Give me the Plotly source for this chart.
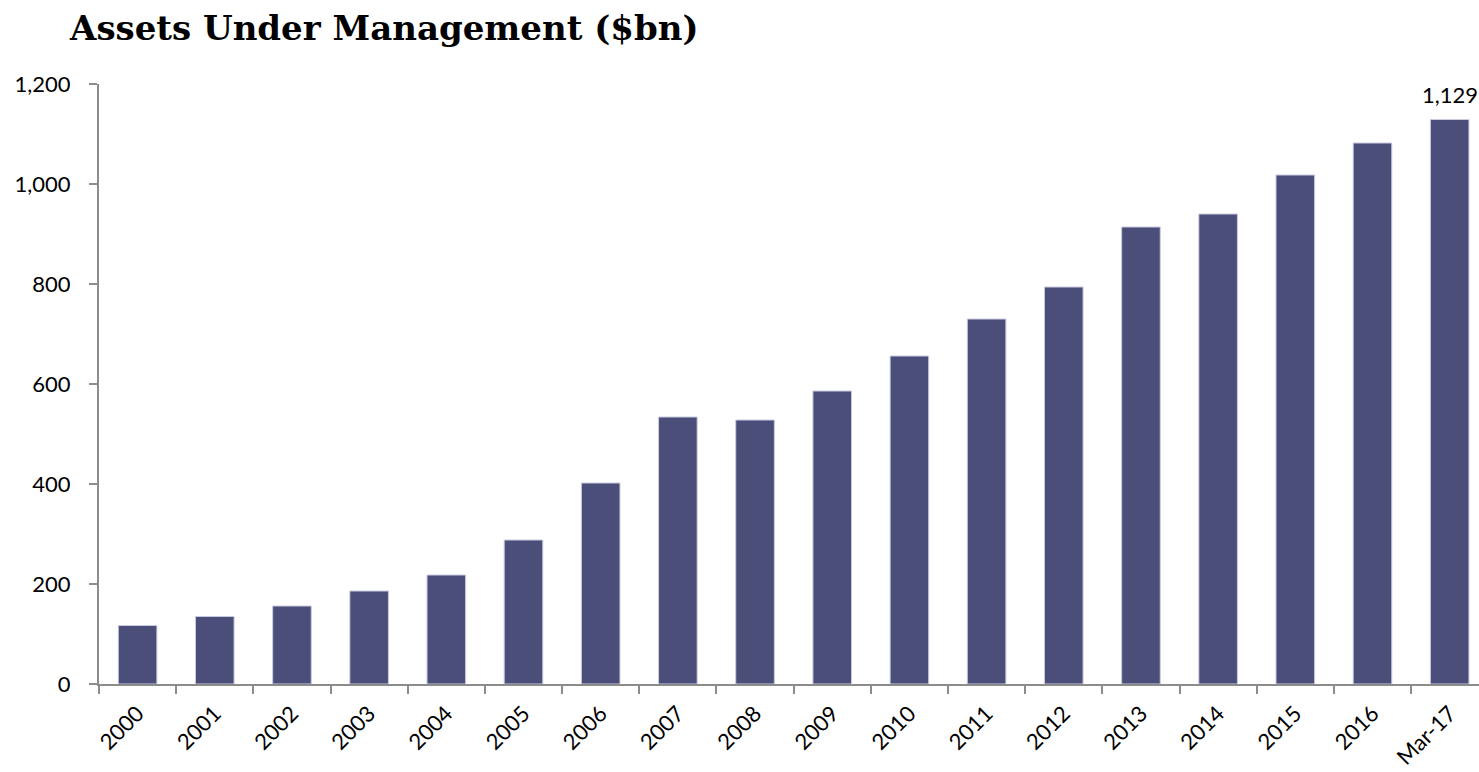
import plotly.graph_objects as go

categories = ["2000", "2001", "2002", "2003", "2004", "2005", "2006", "2007", "2008",
              "2009", "2010", "2011", "2012", "2013", "2014", "2015", "2016", "Mar-17"]
aum_values = [117, 135, 156, 186, 218, 288, 402, 534, 528,
              586, 656, 730, 794, 914, 940, 1018, 1082, 1129]
label_index = [17]
y_ticks = [0, 200, 400, 600, 800, 1000, 1200]
y_tick_text = ["0", "200", "400", "600", "800", "1,000", "1,200"]

FONT = "Lato, Open Sans, sans-serif"
FS = 22

fig = go.Figure()
fig.add_trace(go.Bar(
    x=categories, y=aum_values,
    marker=dict(color="#4b4e78", line=dict(color="#c9cbe0", width=1)),
    width=0.5,
    cliponaxis=False,
    hoverinfo="x+y",
))

for i in label_index:
    fig.add_annotation(
        x=categories[i], y=aum_values[i], text=f"{aum_values[i]:,}",
        showarrow=False, yanchor="bottom", yshift=10,
        font=dict(family=FONT, size=FS, color="#000000"),
    )

fig.update_layout(
    width=1479, height=772,
    margin=dict(l=99, r=0, t=84, b=88),
    paper_bgcolor="white", plot_bgcolor="white",
    showlegend=False,
    title=dict(
        text="<b>Assets Under Management ($bn)</b>",
        x=70 / 1479, xanchor="left", xref="container",
        y=1 - 28 / 772, yanchor="middle", yref="container",
        font=dict(family="DejaVu Serif, Georgia, serif", size=34, color="#000000"),
    ),
    font=dict(family=FONT, size=FS, color="#000000"),
)

fig.update_xaxes(
    type="category",
    range=[-0.5, 17.38],
    showline=True, linecolor="#8c8c8c", linewidth=2,
    ticks="outside", tickson="boundaries", ticklen=8, tickcolor="#8c8c8c", tickwidth=2,
    tickangle=-45,
    ticklabelstandoff=6,
    tickfont=dict(family=FONT, size=FS, color="#000000"),
    showgrid=False, zeroline=False,
)
fig.update_yaxes(
    range=[0, 1200],
    tickvals=y_ticks, ticktext=y_tick_text,
    showline=True, linecolor="#8c8c8c", linewidth=2,
    ticks="outside", ticklen=8, tickcolor="#8c8c8c", tickwidth=2,
    ticklabelstandoff=14,
    tickfont=dict(family=FONT, size=FS, color="#000000"),
    showgrid=False, zeroline=False,
)

fig.write_html("out.html")
